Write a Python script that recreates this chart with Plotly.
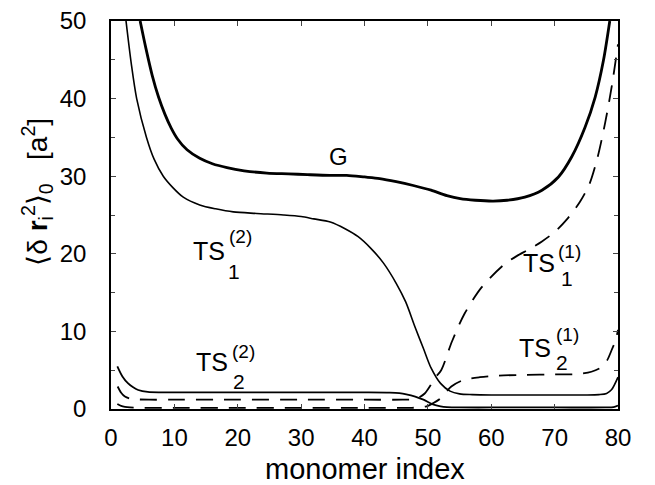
import plotly.graph_objects as go

# ---------------- data ----------------
g_x = [4.6, 5.5, 6.5, 7.5, 8.5, 9.5, 10.5, 12.0, 14.0, 16.0, 18.3, 21.0, 24.6, 28.0, 31.0, 34.5, 37.2, 40.0, 42.4,
       45.0, 47.7, 50.5, 53.0, 55.1, 57.5, 60.3, 62.5, 65.3, 68.0, 70.6, 72.7, 74.8, 76.4, 77.7, 78.7]
g_y = [50.0, 46.5, 43.0, 40.2, 38.0, 36.2, 34.8, 33.4, 32.3, 31.6, 31.1, 30.7, 30.4, 30.3, 30.2, 30.1, 30.1, 29.9, 29.7,
       29.3, 28.8, 28.2, 27.5, 27.1, 26.9, 26.8, 26.9, 27.3, 28.2, 29.9, 32.5, 36.3, 40.2, 44.9, 50.0]

ts12_x = [2.37, 3.2, 4.05, 5.6, 6.8, 8.25, 9.8, 11.4, 14.0, 16.5, 19.3, 23.0, 27.2, 30.0, 32.0, 34.6, 37.0, 39.0,
          41.0, 43.0, 45.0, 46.5, 48.0, 49.3, 50.5, 52.0, 53.5, 55.0, 57.0, 60.0, 65.0, 70.0, 75.0, 77.0, 78.2, 79.0, 80.0]
ts12_y = [50.0, 44.5, 40.0, 35.0, 32.2, 30.0, 28.5, 27.3, 26.3, 25.8, 25.4, 25.2, 25.0, 24.8, 24.5, 24.1, 23.2, 22.2,
          20.7, 18.8, 16.2, 13.8, 10.5, 7.8, 5.3, 3.3, 2.3, 1.95, 1.85, 1.8, 1.8, 1.8, 1.8, 1.85, 2.0, 2.5, 4.1]

ts22_x = [1.0, 1.8, 2.7, 3.5, 4.3, 5.8, 8.0, 12.0, 20.0, 30.0, 40.0, 44.0, 45.5, 46.6, 48.0, 49.3, 50.8, 52.0,
          53.0, 55.0, 60.0, 70.0, 78.0, 79.3, 80.0]
ts22_y = [5.5, 4.2, 3.3, 2.8, 2.45, 2.2, 2.15, 2.15, 2.15, 2.15, 2.15, 2.12, 2.05, 1.9, 1.6, 1.2, 0.6, 0.35,
          0.25, 0.2, 0.2, 0.2, 0.2, 0.25, 0.45]

ts11_x = [1.05, 1.6, 2.2, 3.0, 4.0, 6.0, 10.0, 20.0, 30.0, 40.0, 46.0, 47.5, 48.5, 49.5, 50.3, 51.1, 52.1, 53.8,
          55.8, 58.5, 62.0, 64.0, 66.0, 68.0, 70.0, 72.0, 74.0, 75.5, 76.8, 78.0, 79.0, 80.0]
ts11_y = [2.9, 2.1, 1.6, 1.35, 1.25, 1.2, 1.2, 1.2, 1.2, 1.2, 1.2, 1.25, 1.45, 2.0, 2.9, 4.0, 5.0, 8.7,
          12.3, 15.7, 18.6, 19.7, 20.6, 21.6, 22.8, 24.5, 26.7, 29.0, 32.5, 37.0, 41.5, 47.0]

ts21_x = [1.0, 1.6, 2.2, 3.0, 4.5, 10.0, 20.0, 30.0, 40.0, 47.0, 48.8, 49.8, 50.5, 51.9, 53.7, 55.5, 58.2, 61.0,
          65.3, 70.0, 73.7, 75.8, 77.4, 78.3, 79.0, 79.6, 80.0]
ts21_y = [0.64, 0.4, 0.28, 0.2, 0.15, 0.15, 0.15, 0.15, 0.15, 0.15, 0.2, 0.35, 0.6, 1.3, 2.9, 3.7, 4.1, 4.3,
          4.4, 4.45, 4.5, 4.8, 5.4, 6.3, 7.6, 8.8, 10.2]

x_ticks = [0, 10, 20, 30, 40, 50, 60, 70, 80]
y_ticks = [0, 10, 20, 30, 40, 50]

FONT = "Liberation Sans, Arial, Helvetica, sans-serif"
DASH = "17px,11px"

fig = go.Figure()


def add_line(xs, ys, width, dash=None):
    fig.add_trace(go.Scatter(
        x=xs, y=ys, mode="lines",
        line=dict(color="black", width=width, shape="spline", smoothing=0.8, dash=dash),
        showlegend=False, hoverinfo="skip"))


add_line(g_x, g_y, 2.8)
add_line(ts12_x, ts12_y, 1.6)
add_line(ts22_x, ts22_y, 1.8)
add_line(ts11_x, ts11_y, 1.8, DASH)
add_line(ts21_x, ts21_y, 1.8, DASH)

# ---------------- labels ----------------
labels = [
    # text, x, y, size
    ("G", 35.9, 32.5, 24),
    ("TS", 15.5, 20.3, 25), ("(2)", 20.5, 22.2, 19), ("1", 19.4, 17.7, 21),
    ("TS", 16.0, 6.0, 25), ("(2)", 20.9, 7.4, 19), ("2", 20.2, 3.6, 21),
    ("TS", 67.5, 18.8, 25), ("(1)", 72.4, 20.3, 19), ("1", 71.9, 16.8, 21),
    ("TS", 66.9, 7.8, 25), ("(1)", 72.1, 9.6, 19), ("2", 71.2, 6.0, 21),
]
for t, lx, ly, s in labels:
    fig.add_annotation(x=lx, y=ly, xref="x", yref="y", text=t, showarrow=False,
                       font=dict(family=FONT, size=s, color="black"),
                       xanchor="center", yanchor="middle")

fig.add_annotation(
    x=-0.146, y=0.56, xref="paper", yref="paper", textangle=-90, showarrow=False,
    text="⟨δ <b>r</b><sub>i</sub><sup>2</sup>⟩<sub>0</sub>   [a<sup>2</sup>]",
    font=dict(family=FONT, size=28, color="black"), xanchor="center", yanchor="middle")

fig.add_annotation(
    x=0.5, y=-0.108, xref="paper", yref="paper", showarrow=False,
    text="monomer index", font=dict(family=FONT, size=29, color="black"),
    xanchor="center", yanchor="top")

fig.update_layout(
    width=647, height=477,
    margin=dict(l=103, r=37, t=13, b=76, autoexpand=False),
    paper_bgcolor="white", plot_bgcolor="white",
    font=dict(family=FONT, size=24, color="black"),
)
fig.update_xaxes(
    range=[0, 80], tickvals=x_ticks, ticks="inside", ticklen=5, tickwidth=1.2,
    showline=True, linewidth=1.5, linecolor="black", mirror="ticks",
    showgrid=False, zeroline=False, ticklabelstandoff=6, automargin=False,
    ticklabeloverflow="allow",
)
fig.update_yaxes(
    range=[0, 50], tickvals=y_ticks, ticks="inside", ticklen=5, tickwidth=1.2,
    showline=True, linewidth=1.5, linecolor="black", mirror="ticks",
    showgrid=False, zeroline=False, ticklabelstandoff=18, automargin=False,
    ticklabeloverflow="allow",
    minor=dict(dtick=5, ticks="inside", ticklen=4, tickwidth=1.0, showgrid=False),
)

fig.write_html("out.html")
